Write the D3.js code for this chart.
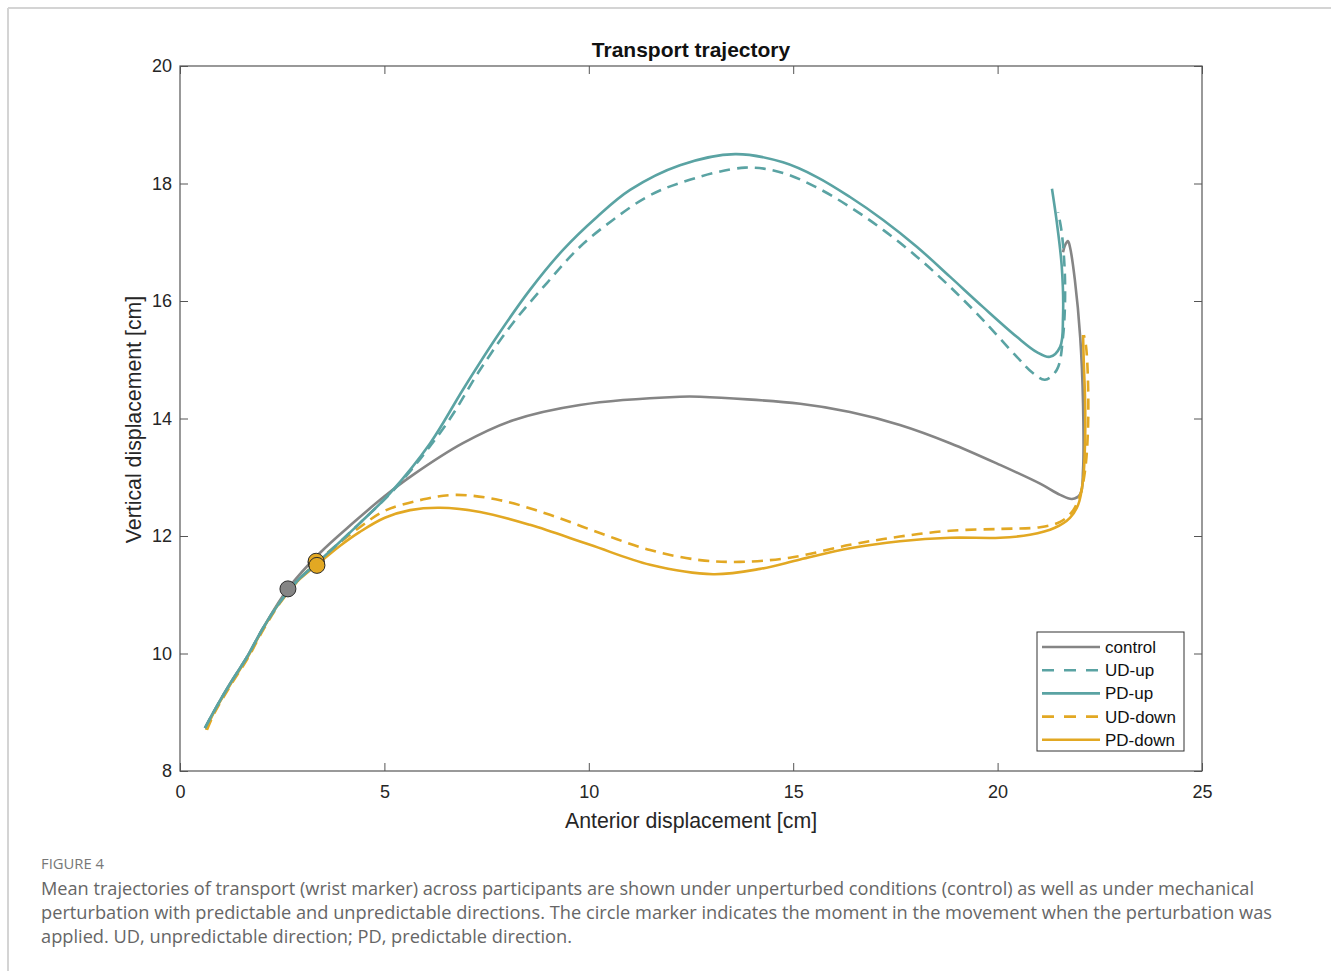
<!DOCTYPE html>
<html>
<head>
<meta charset="utf-8">
<script src="https://cdn.jsdelivr.net/npm/d3@7"></script>
<style>
  html, body { margin: 0; padding: 0; background: #fff; }
  svg { display: block; }
</style>
</head>
<body>
<svg id="fig" width="1331" height="971"></svg>
<script>
// Mean wrist-marker trajectories: [anterior cm, vertical cm]
const control = [
  [0.61,8.73],[0.81,8.99],[1.22,9.48],[1.64,9.94],[2.03,10.43],[2.64,11.10],[3.42,11.71],
  [4.23,12.22],[5.01,12.68],[5.70,13.04],[6.92,13.58],[8.15,13.97],[9.78,14.23],[12.23,14.37],
  [12.72,14.37],[15.17,14.25],[16.39,14.11],[17.61,13.89],[18.84,13.58],[20.06,13.21],
  [21.04,12.89],[21.53,12.70],[21.82,12.63],[22.02,12.71],[22.09,13.12],[22.09,14.26],
  [22.02,15.39],[21.89,16.36],[21.77,16.92],[21.72,17.02],[21.65,16.95],[21.60,16.83]
];
const udUp = [
  [0.61,8.73],[0.81,8.99],[1.22,9.48],[1.64,9.94],[2.03,10.43],[2.45,10.88],[2.86,11.23],
  [3.35,11.54],[4.40,12.22],[5.38,12.90],[6.53,13.92],[7.34,14.83],[8.15,15.63],[8.98,16.31],
  [9.78,16.92],[10.59,17.38],[11.42,17.77],[12.23,18.01],[13.82,18.27],[14.75,18.18],
  [15.58,17.93],[16.39,17.60],[17.20,17.21],[18.03,16.75],[18.84,16.24],[19.64,15.68],
  [20.47,15.05],[20.87,14.77],[21.16,14.66],[21.45,14.83],[21.60,15.39],[21.65,16.31],
  [21.57,17.16],[21.48,17.51]
];
const pdUp = [
  [0.61,8.73],[0.81,8.99],[1.22,9.48],[1.64,9.94],[2.03,10.43],[2.45,10.88],[2.86,11.23],
  [3.35,11.54],[4.40,12.22],[5.14,12.73],[6.12,13.58],[6.92,14.49],[7.75,15.39],[8.56,16.19],
  [9.37,16.87],[10.20,17.43],[11.01,17.89],[12.23,18.31],[13.58,18.50],[14.75,18.36],
  [15.58,18.11],[16.39,17.77],[17.20,17.38],[18.03,16.92],[18.84,16.41],[19.64,15.90],
  [20.47,15.39],[20.96,15.13],[21.28,15.05],[21.53,15.22],[21.60,15.73],[21.57,16.58],
  [21.45,17.33],[21.33,17.91]
];
const udDown = [
  [0.66,8.70],[0.83,8.97],[1.24,9.46],[1.66,9.92],[2.05,10.42],[2.47,10.88],[2.88,11.23],
  [3.35,11.56],[4.40,12.15],[5.01,12.43],[5.87,12.61],[6.73,12.70],[7.83,12.61],[9.05,12.36],
  [10.27,12.05],[11.50,11.76],[12.72,11.59],[13.70,11.56],[14.92,11.63],[16.39,11.85],
  [17.61,11.99],[18.84,12.09],[20.06,12.12],[21.04,12.15],[21.53,12.24],[21.82,12.41],
  [22.02,12.70],[22.14,13.12],[22.21,13.80],[22.21,14.66],[22.16,15.25],[22.11,15.42]
];
const pdDown = [
  [0.64,8.70],[0.81,8.97],[1.22,9.46],[1.64,9.92],[2.03,10.42],[2.45,10.88],[2.86,11.22],
  [3.35,11.51],[3.91,11.83],[4.40,12.07],[5.01,12.31],[5.63,12.44],[6.36,12.48],[7.34,12.41],
  [8.56,12.19],[10.03,11.85],[11.50,11.51],[13.04,11.35],[14.19,11.44],[15.17,11.60],
  [16.39,11.79],[17.61,11.91],[18.84,11.97],[20.06,11.97],[20.79,12.02],[21.40,12.14],
  [21.77,12.31],[21.97,12.53],[22.09,12.95],[22.14,13.63],[22.14,14.31],[22.11,14.91],
  [22.09,15.42]
];

// Moment of perturbation onset on each trajectory
const onsetPoints = [
  { name: "PD-up",   at: [3.34, 11.52] },
  { name: "UD-up",   at: [3.33, 11.55] },
  { name: "control", at: [2.64, 11.10] },
  { name: "UD-down", at: [3.33, 11.57] },
  { name: "PD-down", at: [3.35, 11.50] }
];

const seriesNames = ["control", "UD-up", "PD-up", "UD-down", "PD-down"];
const xTicks = [0, 5, 10, 15, 20, 25];
const yTicks = [8, 10, 12, 14, 16, 18, 20];

const titleText = "Transport trajectory";
const xLabel = "Anterior displacement [cm]";
const yLabel = "Vertical displacement [cm]";
const figLabel = "FIGURE 4";
const captionLines = [
  "Mean trajectories of transport (wrist marker) across participants are shown under unperturbed conditions (control) as well as under mechanical",
  "perturbation with predictable and unpredictable directions. The circle marker indicates the moment in the movement when the perturbation was",
  "applied. UD, unpredictable direction; PD, predictable direction."
];
const captionWidths = [1213, 1231, 531];

const GRAY = "#858585", TEAL = "#5aa3a3", GOLD = "#e2a823";
const style = {
  "control": { color: GRAY, dash: null },
  "UD-up":   { color: TEAL, dash: "11,7" },
  "PD-up":   { color: TEAL, dash: null },
  "UD-down": { color: GOLD, dash: "11,7" },
  "PD-down": { color: GOLD, dash: null }
};
const dataByName = { "control": control, "UD-up": udUp, "PD-up": pdUp, "UD-down": udDown, "PD-down": pdDown };

const svg = d3.select("#fig");

// page frame
svg.append("line").attr("x1", 8).attr("y1", 8).attr("x2", 1331).attr("y2", 8)
  .attr("stroke", "#d4d4d4").attr("stroke-width", 2);
svg.append("line").attr("x1", 8).attr("y1", 8).attr("x2", 8).attr("y2", 971)
  .attr("stroke", "#d4d4d4").attr("stroke-width", 2);

const L = 180, R = 1202, T = 66, B = 771;
const x = d3.scaleLinear().domain([0, 25]).range([L, R]);
const y = d3.scaleLinear().domain([8, 20]).range([B, T]);

const axisColor = "#555";
const tickFont = "Liberation Sans, Arial, sans-serif";

// axes box with inward ticks on all four sides
const g = svg.append("g");
function styleAxis(sel) {
  sel.select(".domain").remove();
  sel.selectAll(".tick line").attr("stroke", axisColor).attr("stroke-width", 1);
  sel.selectAll(".tick text").attr("fill", "#262626").attr("font-family", tickFont).attr("font-size", 18);
}
g.append("g").attr("transform", `translate(0,${B})`)
  .call(d3.axisBottom(x).tickValues(xTicks).tickSize(-8).tickPadding(14).tickFormat(d3.format("d")))
  .call(styleAxis);
g.append("g").attr("transform", `translate(0,${T})`)
  .call(d3.axisTop(x).tickValues(xTicks).tickSize(-8).tickFormat(""))
  .call(styleAxis);
g.append("g").attr("transform", `translate(${L},0)`)
  .call(d3.axisLeft(y).tickValues(yTicks).tickSize(-8).tickPadding(8).tickFormat(d3.format("d")))
  .call(styleAxis);
g.append("g").attr("transform", `translate(${R},0)`)
  .call(d3.axisRight(y).tickValues(yTicks).tickSize(-8).tickFormat(""))
  .call(styleAxis);
g.append("rect").attr("x", L).attr("y", T).attr("width", R - L).attr("height", B - T)
  .attr("fill", "none").attr("stroke", axisColor).attr("stroke-width", 1.2);

// trajectories
const line = d3.line().x(d => x(d[0])).y(d => y(d[1])).curve(d3.curveCatmullRom.alpha(0.5));
const drawOrder = ["control", "UD-down", "PD-down", "UD-up", "PD-up"];
svg.append("clipPath").attr("id", "plotclip")
  .append("rect").attr("x", L).attr("y", T).attr("width", R - L).attr("height", B - T);
const plot = svg.append("g").attr("clip-path", "url(#plotclip)");
drawOrder.forEach(name => {
  plot.append("path")
    .attr("d", line(dataByName[name]))
    .attr("fill", "none")
    .attr("stroke", style[name].color)
    .attr("stroke-width", 2.6)
    .attr("stroke-dasharray", style[name].dash)
    .attr("stroke-linejoin", "round");
});

// perturbation onset markers
plot.selectAll("circle.onset").data(onsetPoints).enter().append("circle")
  .attr("class", "onset")
  .attr("cx", d => x(d.at[0])).attr("cy", d => y(d.at[1])).attr("r", 8)
  .attr("fill", d => style[d.name].color)
  .attr("stroke", "#2b2b2b").attr("stroke-width", 1);

// title and axis labels
svg.append("text").attr("x", (L + R) / 2).attr("y", 57).attr("text-anchor", "middle")
  .attr("font-family", tickFont).attr("font-weight", "bold").attr("font-size", 21)
  .attr("fill", "#111").text(titleText);
svg.append("text").attr("x", (L + R) / 2).attr("y", 828).attr("text-anchor", "middle")
  .attr("font-family", tickFont).attr("font-size", 21.3).attr("fill", "#262626").text(xLabel);
svg.append("text").attr("transform", `translate(141,${(T + B) / 2 + 1}) rotate(-90)`)
  .attr("text-anchor", "middle")
  .attr("font-family", tickFont).attr("font-size", 21.3).attr("fill", "#262626").text(yLabel);

// legend
const lg = svg.append("g").attr("transform", "translate(1037,632)");
lg.append("rect").attr("width", 147).attr("height", 119)
  .attr("fill", "#fff").attr("stroke", "#333").attr("stroke-width", 1);
seriesNames.forEach((name, i) => {
  const cy = 15 + i * 23.2;
  lg.append("line").attr("x1", 5).attr("x2", 63).attr("y1", cy).attr("y2", cy)
    .attr("stroke", style[name].color).attr("stroke-width", 2.6)
    .attr("stroke-dasharray", style[name].dash ? "12,10" : null);
  lg.append("text").attr("x", 68).attr("y", cy + 6)
    .attr("font-family", tickFont).attr("font-size", 17).attr("fill", "#111").text(name);
});

// caption
svg.append("text").attr("x", 41).attr("y", 869)
  .attr("font-family", "'Open Sans', Lato, sans-serif").attr("font-size", 14)
  .attr("fill", "#777").attr("textLength", 63).attr("lengthAdjust", "spacingAndGlyphs").text(figLabel);
captionLines.forEach((t, i) => {
  svg.append("text").attr("x", 41).attr("y", 895 + i * 24)
    .attr("font-family", "'Open Sans', Lato, sans-serif").attr("font-size", 17.5)
    .attr("fill", "#666")
    .attr("textLength", captionWidths[i]).attr("lengthAdjust", "spacingAndGlyphs")
    .text(t);
});
</script>
</body>
</html>
